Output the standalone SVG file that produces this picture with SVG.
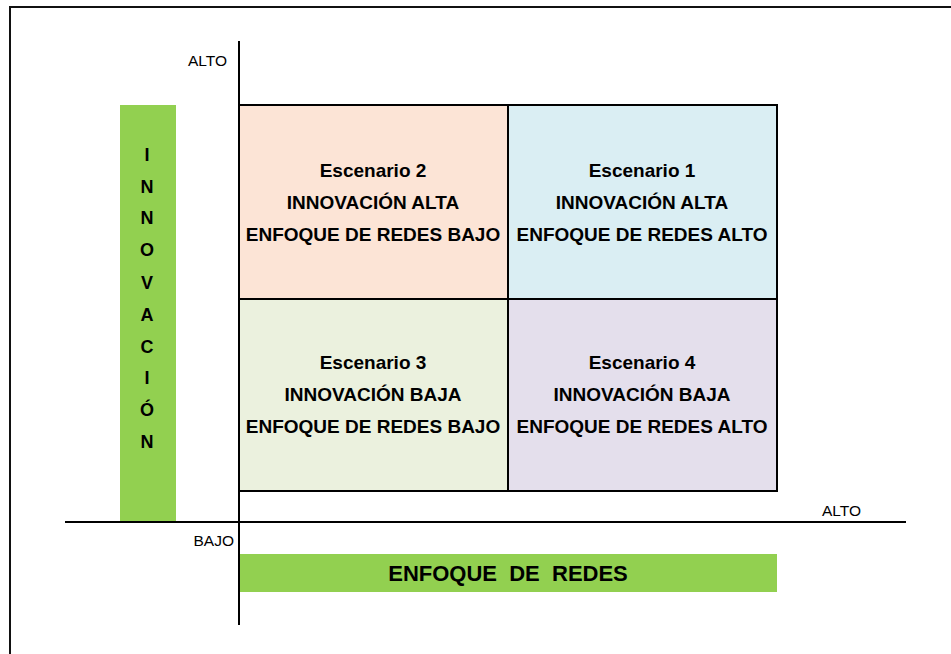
<svg xmlns="http://www.w3.org/2000/svg" width="951" height="654" viewBox="0 0 951 654">
<style>
.q{stroke:#000;stroke-width:2}
.t{font-family:"Liberation Sans",Arial,sans-serif;font-weight:bold;font-size:19px;fill:#000;text-anchor:middle}
.v{font-family:"Liberation Sans",Arial,sans-serif;font-weight:bold;font-size:18px;fill:#000;text-anchor:middle}
.ax{font-family:"Liberation Sans",Arial,sans-serif;font-size:15.5px;fill:#000}
.bar{fill:#92D050}
.axis{stroke:#000;stroke-width:2;fill:none}
</style>
<rect width="951" height="654" fill="#fff"/>
<rect x="10" y="7" width="960" height="670" fill="none" stroke="#111" stroke-width="2"/>

<g id="innovacion-bar">
<rect class="bar" x="120" y="105" width="56" height="417"/>
<text class="v" x="147" y="161">I</text>
<text class="v" x="147" y="193">N</text>
<text class="v" x="147" y="224">N</text>
<text class="v" x="147" y="256">O</text>
<text class="v" x="147" y="289">V</text>
<text class="v" x="147" y="321">A</text>
<text class="v" x="147" y="353">C</text>
<text class="v" x="147" y="384">I</text>
<text class="v" x="147" y="416">Ó</text>
<text class="v" x="147" y="448">N</text>
</g>

<g id="enfoque-bar">
<rect class="bar" x="239" y="554" width="538" height="38"/>
<text x="508" y="581" style="font-family:'Liberation Sans',Arial,sans-serif;font-weight:bold;font-size:22px;fill:#000;text-anchor:middle;white-space:pre" xml:space="preserve">ENFOQUE  DE  REDES</text>
</g>

<g id="escenario2">
<rect class="q" x="239" y="105" width="269" height="194" fill="#FCE4D6"/>
<text class="t" x="373" y="177">Escenario 2</text>
<text class="t" x="373" y="209">INNOVACIÓN ALTA</text>
<text class="t" x="373" y="241">ENFOQUE DE REDES BAJO</text>
</g>
<g id="escenario1">
<rect class="q" x="508" y="105" width="269" height="194" fill="#DAEEF3"/>
<text class="t" x="642" y="177">Escenario 1</text>
<text class="t" x="642" y="209">INNOVACIÓN ALTA</text>
<text class="t" x="642" y="241">ENFOQUE DE REDES ALTO</text>
</g>
<g id="escenario3">
<rect class="q" x="239" y="299" width="269" height="192" fill="#EBF1DE"/>
<text class="t" x="373" y="369">Escenario 3</text>
<text class="t" x="373" y="401">INNOVACIÓN BAJA</text>
<text class="t" x="373" y="433">ENFOQUE DE REDES BAJO</text>
</g>
<g id="escenario4">
<rect class="q" x="508" y="299" width="269" height="192" fill="#E4DFEC"/>
<text class="t" x="642" y="369">Escenario 4</text>
<text class="t" x="642" y="401">INNOVACIÓN BAJA</text>
<text class="t" x="642" y="433">ENFOQUE DE REDES ALTO</text>
</g>

<g id="axes">
<line class="axis" x1="239" y1="41" x2="239" y2="625"/>
<line class="axis" x1="65" y1="522" x2="906" y2="522"/>
</g>

<g id="axis-labels">
<text class="ax" x="227" y="66" text-anchor="end">ALTO</text>
<text class="ax" x="234" y="546" text-anchor="end">BAJO</text>
<text class="ax" x="861" y="516" text-anchor="end">ALTO</text>
</g>
</svg>
